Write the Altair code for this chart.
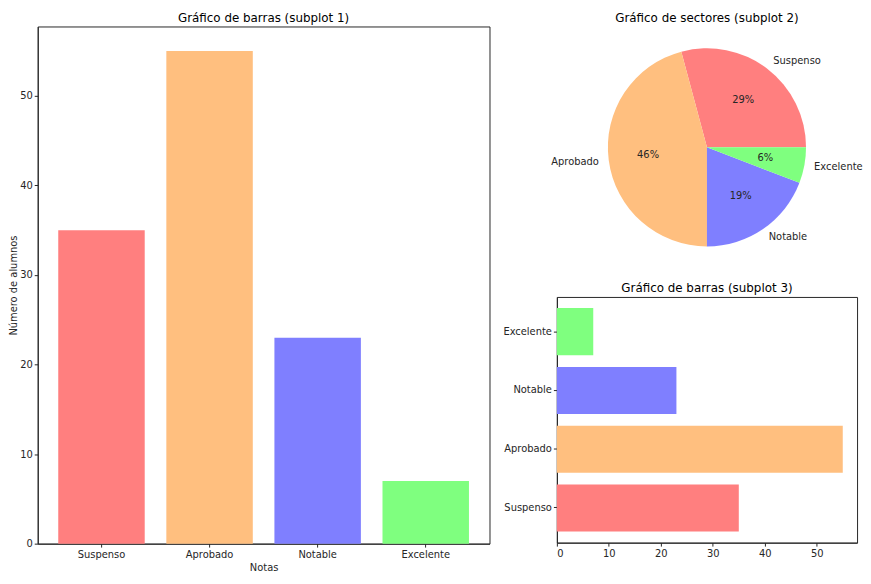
import math
import altair as alt
import pandas as pd

notas = ["Suspenso", "Aprobado", "Notable", "Excelente"]
alumnos = [35, 55, 23, 7]
colores = ["#ff7f7f", "#ffbf7f", "#7f7fff", "#7fff7f"]
pie_orden = [3, 2, 1, 0]  # clockwise from east: Excelente, Notable, Aprobado, Suspenso
y_ticks = [0, 10, 20, 30, 40, 50]

total = sum(alumnos)
df = pd.DataFrame({
    "Nota": notas,
    "Alumnos": alumnos,
    "orden": pie_orden,
    "pct": [f"{round(v / total * 100)}%" for v in alumnos],
})

FONT = "DejaVu Sans"
TXT = "#262626"
ymax = max(alumnos) * 1.05
color = alt.Color("Nota:N", scale=alt.Scale(domain=notas, range=colores), legend=None)

# subplot 1: vertical bars
bars = alt.Chart(df).mark_bar().encode(
    x=alt.X("Nota:N", sort=notas, title="Notas",
            scale=alt.Scale(paddingInner=0.2, paddingOuter=0.19),
            axis=alt.Axis(labelAngle=0, titlePadding=4)),
    y=alt.Y("Alumnos:Q", title="Número de alumnos",
            scale=alt.Scale(domain=[0, ymax], nice=False, zero=True),
            axis=alt.Axis(values=y_ticks, titlePadding=1)),
    color=color,
).properties(
    width=456, height=522,
    title=alt.TitleParams("Gráfico de barras (subplot 1)", frame="group"),
)

# subplot 2: pie
theta = alt.Theta("Alumnos:Q", stack=True,
                  scale=alt.Scale(range=[math.pi / 2, math.pi / 2 + 2 * math.pi]))
order = alt.Order("orden:Q")
base = alt.Chart(df).encode(theta=theta, order=order)
arcs = base.mark_arc(radius=100, stroke=None).encode(color=color)
pcts = base.mark_text(radius=60, font=FONT, fontSize=10, color=TXT).encode(text="pct:N")
lab_r = base.transform_calculate(
    lab="datum.Nota == 'Aprobado' ? '' : datum.Nota"
).mark_text(radius=110, align="left", baseline="middle", font=FONT, fontSize=10,
            color=TXT).encode(text="lab:N")
lab_l = base.transform_calculate(
    lab="datum.Nota == 'Aprobado' ? datum.Nota : ''"
).mark_text(radius=110, align="right", baseline="middle", font=FONT, fontSize=10,
            color=TXT).encode(text="lab:N")
pie = alt.layer(arcs, pcts, lab_r, lab_l).properties(
    width=303, height=244,
    title=alt.TitleParams("Gráfico de sectores (subplot 2)", frame="group"),
    view=alt.ViewBackground(stroke=None),
)

# subplot 3: horizontal bars
hbars = alt.Chart(df).mark_bar().encode(
    y=alt.Y("Nota:N", sort=notas[::-1], title=None,
            scale=alt.Scale(paddingInner=0.2, paddingOuter=0.19)),
    x=alt.X("Alumnos:Q", title=None,
            scale=alt.Scale(domain=[0, ymax], nice=False, zero=True),
            axis=alt.Axis(values=y_ticks)),
    color=color,
).properties(
    width=303, height=248,
    title=alt.TitleParams("Gráfico de barras (subplot 3)", frame="group"),
)

right = alt.vconcat(pie, hbars, spacing=13)
chart = alt.hconcat(bars, right, spacing=11).properties(
    padding={"left": 0, "top": 0, "right": 0, "bottom": 0}
).configure_view(
    stroke="#262626", strokeWidth=1
).configure_axis(
    grid=False, domainColor="#262626", tickColor="#262626", tickSize=3.5,
    labelColor=TXT, titleColor=TXT, labelFont=FONT, titleFont=FONT,
    labelFontSize=10, titleFontSize=10, titleFontWeight="normal", labelPadding=2,
).configure_title(
    font=FONT, fontSize=12, fontWeight="normal", color="#000000", offset=2,
)

chart.save("out.html", embed_options={"renderer": "svg", "actions": False})
